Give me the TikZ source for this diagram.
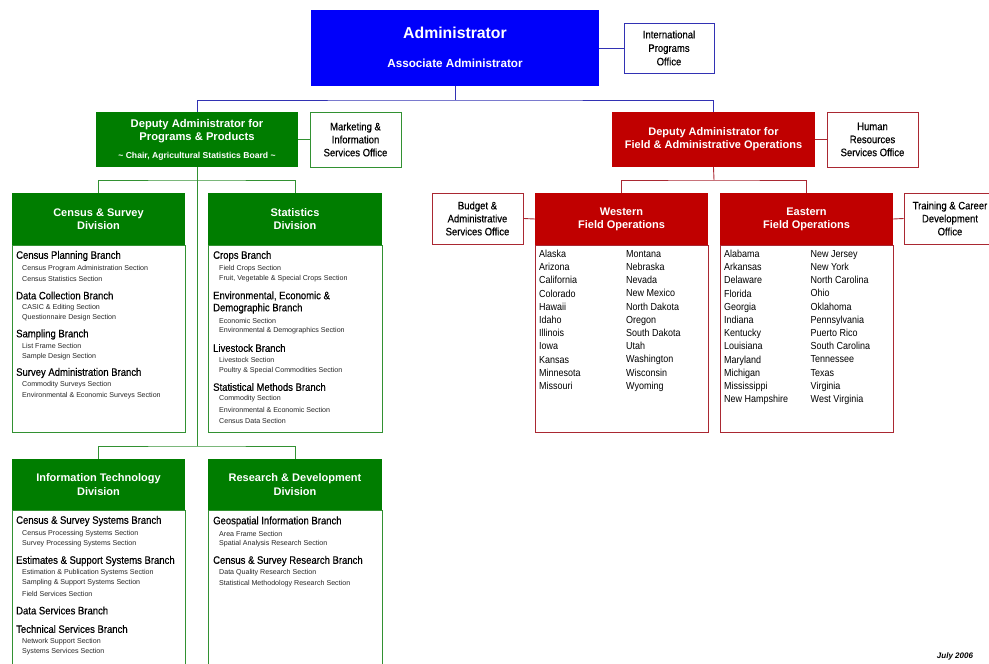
\documentclass[tikz,border=0pt]{standalone}
\usepackage{fontspec}
\setmainfont{Liberation Sans}
\newfontfamily\narrowf[FakeStretch=0.88]{Liberation Sans}
\newfontfamily\branchf[FakeStretch=0.88,FakeBold=0.35]{Liberation Sans}
\definecolor{adminblue}{RGB}{0,0,250}
\definecolor{nassgreen}{RGB}{0,125,0}
\definecolor{nassred}{RGB}{192,0,0}
\definecolor{blueline}{RGB}{50,50,180}
\definecolor{greenline}{RGB}{50,145,50}
\definecolor{redline}{RGB}{170,40,50}
\tikzset{
  fillbox/.style={rectangle, inner sep=0pt, text=white, align=center, font=\bfseries},
  officebox/.style={rectangle, draw, line width=0.9pt, fill=white, inner sep=0pt, align=center,
     font=\branchf\fontsize{10.8}{13}\selectfont},
  bodybox/.style={rectangle, draw, line width=0.9pt, fill=white, inner sep=0pt},
  brtext/.style={anchor=west, inner sep=0pt, font=\branchf\fontsize{10.8}{12}\selectfont, text=black},
  sectext/.style={anchor=west, inner sep=0pt, font=\fontsize{7.1}{8}\selectfont, text=black!85},
  statetext/.style={anchor=north west, inner sep=0pt, align=left, font=\narrowf\fontsize{10.2}{13.2}\selectfont},
  gline/.style={draw=greenline, line width=0.9pt},
  rline/.style={draw=redline, line width=0.9pt},
  bline/.style={draw=blueline, line width=0.9pt},
}
\begin{document}
\begin{tikzpicture}[x=1pt,y=-1pt]
\useasboundingbox (0,0) rectangle (989,664);

% ---------- top ----------
\node[fillbox, fill=adminblue, minimum width=288pt, minimum height=76pt] (admin) at (455,48) {};
\node[text=white, font=\bfseries\fontsize{15.8}{18}\selectfont, inner sep=0pt] (admint) at (455,33) {Administrator};
\node[text=white, font=\bfseries\fontsize{11.7}{14}\selectfont, inner sep=0pt] (assoct) at (455,63) {Associate Administrator};
\node[officebox, draw=blueline, minimum width=90pt, minimum height=50pt,
      font=\branchf\fontsize{10.8}{13.5}\selectfont] (intl) at (669,48) {International\\Programs\\Office};

% ---------- deputies ----------
\node[fillbox, fill=nassgreen, minimum width=202pt, minimum height=55pt] (depG) at (197,139.5) {};
\node[text=white, align=center, font=\bfseries\fontsize{11.2}{13}\selectfont, inner sep=0pt] (depGt) at (197,131.5) {Deputy Administrator for\\Programs \& Products};
\node[text=white, font=\bfseries\fontsize{8.6}{9}\selectfont, inner sep=0pt] (depGc) at (197,156) {\textasciitilde{} Chair, Agricultural Statistics Board \textasciitilde};
\node[officebox, draw=greenline, minimum width=91pt, minimum height=55pt] (mkt) at (355.5,139.5) {Marketing \&\\Information\\Services Office};

\node[fillbox, fill=nassred, minimum width=203pt, minimum height=55pt] (depR) at (713.5,139.5) {};
\node[text=white, align=center, font=\bfseries\fontsize{11}{12.5}\selectfont, inner sep=0pt] (depRt) at (713.5,139) {Deputy Administrator for\\Field \& Administrative Operations};
\node[officebox, draw=redline, minimum width=91pt, minimum height=55pt] (hr) at (872.5,139.5) {Human\\Resources\\Services Office};

% ---------- divisions (green) ----------
\node[fillbox, fill=nassgreen, minimum width=173pt, minimum height=52pt, font=\bfseries\fontsize{11}{12.8}\selectfont] (csd) at (98.5,219) {Census \& Survey\\Division};
\node[bodybox, draw=greenline, minimum width=173pt, minimum height=187pt] (csdb) at (98.5,338.5) {};
\node[fillbox, fill=nassgreen, minimum width=174pt, minimum height=52pt, font=\bfseries\fontsize{11}{12.8}\selectfont] (std) at (295,219) {Statistics\\Division};
\node[bodybox, draw=greenline, minimum width=174pt, minimum height=187pt] (stdb) at (295,338.5) {};
\node[bodybox, draw=greenline, minimum width=173pt, minimum height=170pt] (itdb) at (98.5,595) {};
\node[bodybox, draw=greenline, minimum width=174pt, minimum height=170pt] (rddb) at (295,595) {};
\node[fillbox, fill=nassgreen, minimum width=173pt, minimum height=51pt, font=\bfseries\fontsize{11}{13.5}\selectfont] (itd) at (98.5,484.5) {Information Technology\\Division};
\node[fillbox, fill=nassgreen, minimum width=174pt, minimum height=51pt, font=\bfseries\fontsize{11}{13.5}\selectfont] (rdd) at (295,484.5) {Research \& Development\\Division};

% ---------- field operations (red) ----------
\node[bodybox, draw=redline, minimum width=173pt, minimum height=187pt] (wfob) at (621.5,338.5) {};
\node[fillbox, fill=nassred, minimum width=173pt, minimum height=52pt, font=\bfseries\fontsize{11}{12.8}\selectfont] (wfo) at (621.5,219) {Western\\Field Operations};
\node[bodybox, draw=redline, minimum width=173pt, minimum height=187pt] (efob) at (806.5,338.5) {};
\node[fillbox, fill=nassred, minimum width=173pt, minimum height=52pt, font=\bfseries\fontsize{11}{12.8}\selectfont] (efo) at (806.5,219) {Eastern\\Field Operations};
\node[officebox, draw=redline, minimum width=91pt, minimum height=51pt] (bud) at (477.5,218.5) {Budget \&\\Administrative\\Services Office};
\node[officebox, draw=redline, minimum width=92pt, minimum height=51pt] (trn) at (950,218.5) {Training \& Career\\Development\\Office};

% ---------- connectors ----------
\coordinate (topbus) at (455,100);
\draw[bline] (admin.south) -- (topbus);
\draw[bline] (depG.north) |- (topbus) -| (depR.north);
\draw[bline] (admin.east) -- (intl.west);

\coordinate (gbus1) at (197,180);
\coordinate (gbus2) at (197,446);
\draw[gline] (depG.east) -- (mkt.west);
\draw[gline] (depG.south) -- (gbus2);
\draw[gline] (csd.north) |- (gbus1) -| (std.north);
\draw[gline] (itd.north) |- (gbus2) -| (rdd.north);

\coordinate (rbus) at (714,180);
\draw[rline] (depR.east) -- (hr.west);
\draw[rline] (depR.south) -- (rbus);
\draw[rline] (wfo.north) |- (rbus) -| (efo.north);
\draw[rline] (bud.east) -- (wfo.west);
\draw[rline] (efo.east) -- (trn.west);

% ---------- Census & Survey Division ----------
\node[brtext] (cs1) at (16,256) {Census Planning Branch};
\node[sectext] (cs1a) at (22,268.5) {Census Program Administration Section};
\node[sectext] (cs1b) at (22,279) {Census Statistics Section};
\node[brtext] (cs2) at (16,295.5) {Data Collection Branch};
\node[sectext] (cs2a) at (22,308) {CASIC \& Editing Section};
\node[sectext] (cs2b) at (22,318) {Questionnaire Design Section};
\node[brtext] (cs3) at (16,334.5) {Sampling Branch};
\node[sectext] (cs3a) at (22,346) {List Frame Section};
\node[sectext] (cs3b) at (22,356.5) {Sample Design Section};
\node[brtext] (cs4) at (16,373) {Survey Administration Branch};
\node[sectext] (cs4a) at (22,385) {Commodity Surveys Section};
\node[sectext] (cs4b) at (22,395.5) {Environmental \& Economic Surveys Section};

% ---------- Statistics Division ----------
\node[brtext] (st1) at (213,256) {Crops Branch};
\node[sectext] (st1a) at (219,268.5) {Field Crops Section};
\node[sectext] (st1b) at (219,279) {Fruit, Vegetable \& Special Crops Section};
\node[brtext] (st2) at (213,296) {Environmental, Economic \&};
\node[brtext] (st2x) at (213,308.5) {Demographic Branch};
\node[sectext] (st2a) at (219,321) {Economic Section};
\node[sectext] (st2b) at (219,331) {Environmental \& Demographics Section};
\node[brtext] (st3) at (213,348) {Livestock Branch};
\node[sectext] (st3a) at (219,360) {Livestock Section};
\node[sectext] (st3b) at (219,370.5) {Poultry \& Special Commodities Section};
\node[brtext] (st4) at (213,387) {Statistical Methods Branch};
\node[sectext] (st4a) at (219,399) {Commodity Section};
\node[sectext] (st4b) at (219,410) {Environmental \& Economic Section};
\node[sectext] (st4c) at (219,420.5) {Census Data Section};

% ---------- IT Division ----------
\node[brtext] (it1) at (16,521) {Census \& Survey Systems Branch};
\node[sectext] (it1a) at (22,533.5) {Census Processing Systems Section};
\node[sectext] (it1b) at (22,543.5) {Survey Processing Systems Section};
\node[brtext] (it2) at (16,561) {Estimates \& Support Systems Branch};
\node[sectext] (it2a) at (22,573) {Estimation \& Publication Systems Section};
\node[sectext] (it2b) at (22,583) {Sampling \& Support Systems Section};
\node[sectext] (it2c) at (22,593.5) {Field Services Section};
\node[brtext] (it3) at (16,610.5) {Data Services Branch};
\node[brtext] (it4) at (16,629) {Technical Services Branch};
\node[sectext] (it4a) at (22,641.5) {Network Support Section};
\node[sectext] (it4b) at (22,651.5) {Systems Services Section};

% ---------- R&D Division ----------
\node[brtext] (rd1) at (213,521.5) {Geospatial Information Branch};
\node[sectext] (rd1a) at (219,533.5) {Area Frame Section};
\node[sectext] (rd1b) at (219,544) {Spatial Analysis Research Section};
\node[brtext] (rd2) at (213,561) {Census \& Survey Research Branch};
\node[sectext] (rd2a) at (219,573) {Data Quality Research Section};
\node[sectext] (rd2b) at (219,583.5) {Statistical Methodology Research Section};

% ---------- states ----------
\node[statetext] (wL) at (539,250) {Alaska\\Arizona\\California\\Colorado\\Hawaii\\Idaho\\Illinois\\Iowa\\Kansas\\Minnesota\\Missouri};
\node[statetext] (wR) at (626,250) {Montana\\Nebraska\\Nevada\\New Mexico\\North Dakota\\Oregon\\South Dakota\\Utah\\Washington\\Wisconsin\\Wyoming};
\node[statetext] (eL) at (724,250) {Alabama\\Arkansas\\Delaware\\Florida\\Georgia\\Indiana\\Kentucky\\Louisiana\\Maryland\\Michigan\\Mississippi\\New Hampshire};
\node[statetext] (eR) at (810.5,250) {New Jersey\\New York\\North Carolina\\Ohio\\Oklahoma\\Pennsylvania\\Puerto Rico\\South Carolina\\Tennessee\\Texas\\Virginia\\West Virginia};

% ---------- date ----------
\node[font=\bfseries\itshape\fontsize{8}{9}\selectfont, inner sep=0pt] (date) at (955,656) {July 2006};
\end{tikzpicture}
\end{document}
